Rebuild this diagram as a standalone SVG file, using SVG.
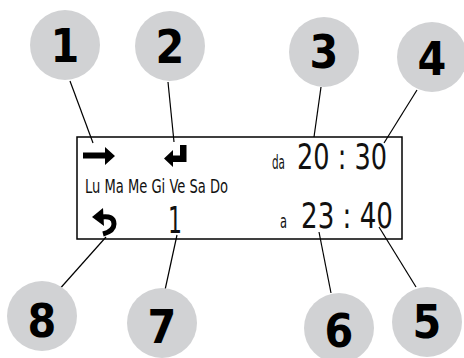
<svg xmlns="http://www.w3.org/2000/svg" width="464" height="358" viewBox="0 0 464 358">
<style>
.c{fill:#d1d2d4}
.n{font-family:"DejaVu Sans Condensed","DejaVu Sans",sans-serif;font-stretch:condensed;font-weight:bold;font-size:46px;fill:#000;text-anchor:middle}
.t{font-family:"DejaVu Sans Condensed","DejaVu Sans",sans-serif;font-stretch:condensed;fill:#111}
.l{stroke:#000;stroke-width:1.2;fill:none}
</style>
<rect x="0" y="0" width="464" height="358" fill="#fff"/>
<g id="connectors">
<line class="l" x1="70" y1="81" x2="93" y2="143"/>
<line class="l" x1="168" y1="82" x2="174" y2="142"/>
<line class="l" x1="321" y1="87" x2="314" y2="137"/>
<line class="l" x1="417" y1="90" x2="384" y2="143"/>
<line class="l" x1="106" y1="237" x2="57" y2="292"/>
<line class="l" x1="177" y1="235" x2="165" y2="290"/>
<line class="l" x1="319" y1="232" x2="331" y2="293"/>
<line class="l" x1="379" y1="227" x2="416" y2="287"/>
</g>
<g id="display">
<rect x="77" y="137" width="325" height="102" fill="none" stroke="#000" stroke-width="1.5"/>
<path id="arrow-right" d="M83,152.5 H105 V147 L115,156 L105,165 V158.5 H83 Z" fill="#000"/>
<path id="arrow-return" d="M180,145 H186.5 V162 H173 V167 L164,158.5 L173,150 V155.5 H180 Z" fill="#000"/>
<g id="arrow-undo">
<path d="M101,217 Q114,215 114,224 Q114,231 103,234" fill="none" stroke="#000" stroke-width="5"/>
<path d="M92,217 L103,208 L104,226 Z" fill="#000"/>
</g>
<text class="t" x="85" y="193" font-size="19.5" textLength="143" lengthAdjust="spacingAndGlyphs">Lu Ma Me Gi Ve Sa Do</text>
<text class="t" x="272" y="169" font-size="19" textLength="13" lengthAdjust="spacingAndGlyphs">da</text>
<text class="t" x="297" y="169" font-size="36" textLength="90" lengthAdjust="spacingAndGlyphs">20 : 30</text>
<text class="t" x="280" y="228" font-size="19" textLength="7" lengthAdjust="spacingAndGlyphs">a</text>
<text class="t" x="301" y="228" font-size="36" textLength="92" lengthAdjust="spacingAndGlyphs">23 : 40</text>
<text class="t" x="168" y="233" font-size="38" textLength="14" lengthAdjust="spacingAndGlyphs">1</text>
</g>
<g id="n1"><circle class="c" cx="65" cy="45" r="35"/><text class="n" x="65" y="62">1</text></g>
<g id="n2"><circle class="c" cx="170" cy="46" r="35"/><text class="n" x="170" y="63">2</text></g>
<g id="n3"><circle class="c" cx="324" cy="52" r="35"/><text class="n" x="324" y="68">3</text></g>
<g id="n4"><circle class="c" cx="432" cy="57" r="35"/><text class="n" x="432" y="75">4</text></g>
<g id="n5"><circle class="c" cx="427" cy="322" r="35"/><text class="n" x="427" y="338">5</text></g>
<g id="n6"><circle class="c" cx="339" cy="328" r="35"/><text class="n" x="339" y="347">6</text></g>
<g id="n7"><circle class="c" cx="162" cy="323" r="35"/><text class="n" x="162" y="343">7</text></g>
<g id="n8"><circle class="c" cx="42" cy="316" r="35"/><text class="n" x="42" y="337">8</text></g>
</svg>
